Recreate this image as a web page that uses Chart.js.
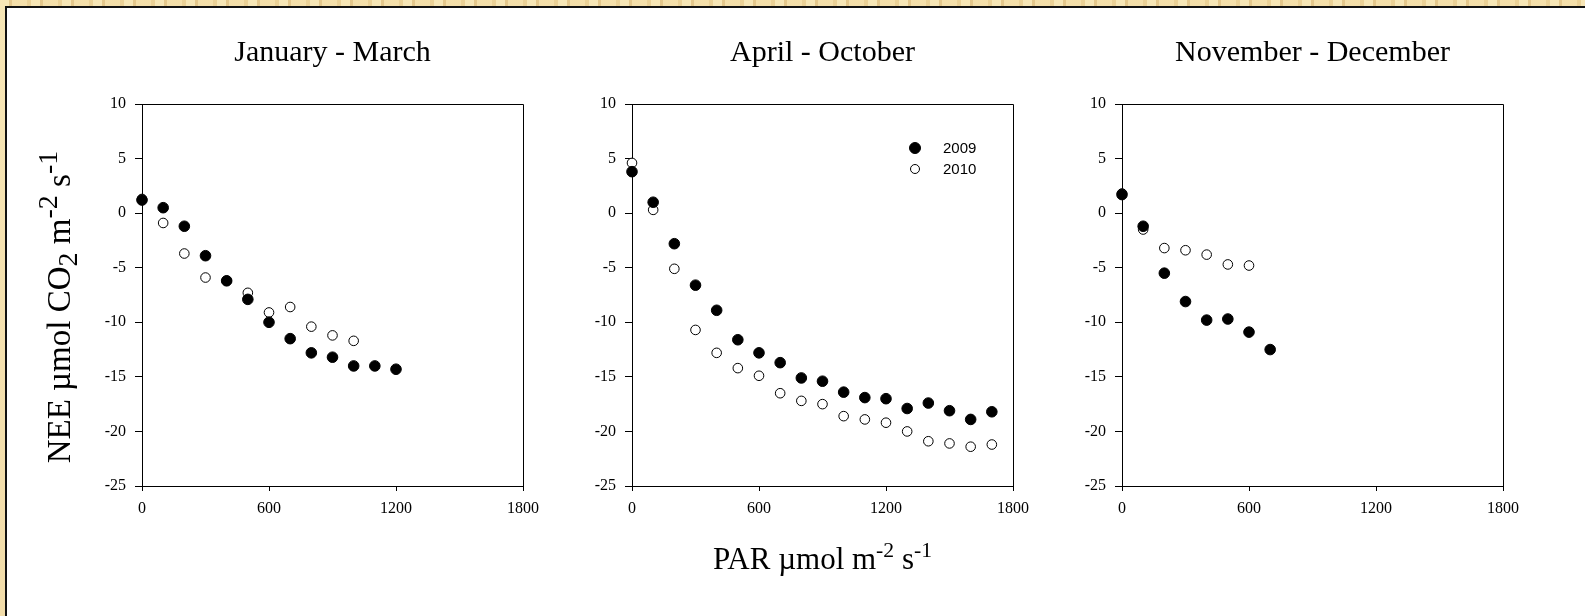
<!DOCTYPE html>
<html>
<head>
<meta charset="utf-8">
<script src="https://cdn.jsdelivr.net/npm/chart.js@4.4.0/dist/chart.umd.min.js"></script>
<style>
html,body{margin:0;padding:0;}
body{
  width:1585px;height:616px;overflow:hidden;position:relative;
  background:
    repeating-linear-gradient(90deg, rgba(255,244,205,.45) 0 9px, rgba(196,150,80,.28) 9px 12px, rgba(255,236,190,.25) 12px 27px, rgba(210,170,100,.2) 27px 31px),
    linear-gradient(#f1dba3,#e7c98c);
}
#sheet{position:absolute;left:5px;top:6px;width:1610px;height:640px;background:#fff;border-left:2px solid #111;border-top:2px solid #111;}
canvas{position:absolute;left:0;top:0;}
</style>
</head>
<body>
<div id="sheet"></div>
<canvas id="p0" width="1585" height="616"></canvas>
<canvas id="p1" width="1585" height="616"></canvas>
<canvas id="p2" width="1585" height="616"></canvas>
<script>
// light response of NEE, binned by PAR, three seasons x two years
const seasons = ['January - March', 'April - October', 'November - December'];
const years = ['2009', '2010'];
const parLevels = [0,100,200,300,400,500,600,700,800,900,1000,1100,1200,1300,1400,1500,1600,1700];

const janMar2009 = [1.2,0.5,-1.2,-3.9,-6.2,-7.9,-10.0,-11.5,-12.8,-13.2,-14.0,-14.0,-14.3];
const janMar2010 = [1.3,-0.9,-3.7,-5.9,-6.2,-7.3,-9.1,-8.6,-10.4,-11.2,-11.7];
const aprOct2009 = [3.8,1.0,-2.8,-6.6,-8.9,-11.6,-12.8,-13.7,-15.1,-15.4,-16.4,-16.9,-17.0,-17.9,-17.4,-18.1,-18.9,-18.2];
const aprOct2010 = [4.6,0.3,-5.1,-10.7,-12.8,-14.2,-14.9,-16.5,-17.2,-17.5,-18.6,-18.9,-19.2,-20.0,-20.9,-21.1,-21.4,-21.2];
const novDec2009 = [1.7,-1.2,-5.5,-8.1,-9.8,-9.7,-10.9,-12.5];
const novDec2010 = [1.8,-1.5,-3.2,-3.4,-3.8,-4.7,-4.8];

const parTicks = [0,600,1200,1800];
const neeTicks = [-25,-20,-15,-10,-5,0,5,10];

const series = [[janMar2009, janMar2010], [aprOct2009, aprOct2010], [novDec2009, novDec2010]];

// plot boxes on the page
const W = 1585, H = 616;
const boxLeft = [142, 632, 1122];
const boxWidth = 381;
const boxTop = 104, boxBottom = 486;
const yAxisW = 60, xAxisH = 50;

const serif = '"Liberation Serif", "Times New Roman", serif';
const sans = '"Liberation Sans", Arial, sans-serif';

function toPoints(vals) {
  return vals.map((v, i) => ({x: parLevels[i], y: v}));
}

// text with sub/superscript pieces, centred on (x,y)
function drawRich(ctx, parts, x, y, size, scale, vertical) {
  ctx.save();
  ctx.translate(x, y);
  if (vertical) ctx.rotate(-Math.PI / 2);
  ctx.fillStyle = '#000';
  ctx.textAlign = 'left';
  ctx.textBaseline = 'alphabetic';
  let total = 0;
  parts.forEach(p => {
    ctx.font = (p.s ? size * scale : size) + 'px ' + serif;
    total += ctx.measureText(p.t).width;
  });
  let cx = -total / 2;
  parts.forEach(p => {
    ctx.font = (p.s ? size * scale : size) + 'px ' + serif;
    const dy = p.s === 'sup' ? -size * 0.4 : p.s === 'sub' ? size * 0.2 : 0;
    ctx.fillText(p.t, cx, dy);
    cx += ctx.measureText(p.t).width;
  });
  ctx.restore();
}

const panelText = {
  id: 'panelText',
  beforeDatasetsDraw(chart, args, opts) {
    const {ctx, chartArea: a} = chart;
    ctx.save();
    ctx.strokeStyle = '#000';
    ctx.lineWidth = 1;
    ctx.beginPath();
    ctx.moveTo(a.left, a.top + 0.5);
    ctx.lineTo(a.right + 0.5, a.top + 0.5);
    ctx.lineTo(a.right + 0.5, a.bottom);
    ctx.stroke();
    ctx.restore();
  },
  afterDraw(chart, args, opts) {
    const {ctx, chartArea: a} = chart;
    ctx.save();
    ctx.fillStyle = '#000';
    ctx.font = '30px ' + serif;
    ctx.textAlign = 'center';
    ctx.textBaseline = 'alphabetic';
    ctx.fillText(opts.title, (a.left + a.right) / 2, a.top - 43);
    ctx.restore();

    if (opts.yTitle) {
      drawRich(ctx, [{t: 'NEE µmol CO'}, {t: '2', s: 'sub'}, {t: ' m'}, {t: '-2', s: 'sup'}, {t: ' s'}, {t: '-1', s: 'sup'}],
        70, 307, 33, 0.85, true);
    }
    if (opts.xTitle) {
      drawRich(ctx, [{t: 'PAR µmol m'}, {t: '-2', s: 'sup'}, {t: ' s'}, {t: '-1', s: 'sup'}],
        (a.left + a.right) / 2, 569, 31, 0.7, false);
    }
    if (opts.legend) {
      ctx.save();
      ctx.font = '15px ' + sans;
      ctx.textAlign = 'left';
      ctx.textBaseline = 'alphabetic';
      chart.data.datasets.forEach((ds, i) => {
        const cy = a.top + 44 + i * 21;
        ctx.beginPath();
        ctx.arc(a.right - 98, cy, i === 0 ? 5.5 : 4.5, 0, Math.PI * 2);
        ctx.fillStyle = ds.pointBackgroundColor;
        ctx.fill();
        ctx.lineWidth = 1;
        ctx.strokeStyle = '#000';
        ctx.stroke();
        ctx.fillStyle = '#000';
        ctx.fillText(ds.label, a.right - 70, cy + 5);
      });
      ctx.restore();
    }
  }
};

seasons.forEach((season, k) => {
  const [s2009, s2010] = series[k];
  new Chart(document.getElementById('p' + k), {
    type: 'scatter',
    data: {
      datasets: [
        {label: years[0], data: toPoints(s2009), pointRadius: 5.3, pointBorderWidth: 1,
         pointBackgroundColor: '#000', pointBorderColor: '#000', clip: false},
        {label: years[1], data: toPoints(s2010), pointRadius: 4.8, pointBorderWidth: 1,
         pointBackgroundColor: '#fff', pointBorderColor: '#000', clip: false}
      ]
    },
    options: {
      responsive: false,
      animation: false,
      events: [],
      layout: {
        padding: {
          left: boxLeft[k] - yAxisW,
          right: W - (boxLeft[k] + boxWidth),
          top: boxTop,
          bottom: H - boxBottom - xAxisH
        }
      },
      scales: {
        x: {
          type: 'linear',
          min: parTicks[0],
          max: parTicks[parTicks.length - 1],
          afterBuildTicks: s => { s.ticks = parTicks.map(v => ({value: v})); },
          afterFit: s => { s.height = xAxisH; },
          grid: {display: true, drawOnChartArea: false, drawTicks: true, tickLength: 5, color: '#000', lineWidth: 1},
          border: {display: true, color: '#000', width: 1},
          ticks: {color: '#000', font: {family: serif, size: 16}, padding: 8, maxRotation: 0, callback: v => String(v)}
        },
        y: {
          type: 'linear',
          min: neeTicks[0],
          max: neeTicks[neeTicks.length - 1],
          afterBuildTicks: s => { s.ticks = neeTicks.map(v => ({value: v})); },
          afterFit: s => { s.width = yAxisW; },
          grid: {display: true, drawOnChartArea: false, drawTicks: true, tickLength: 7, color: '#000', lineWidth: 1},
          border: {display: true, color: '#000', width: 1},
          ticks: {color: '#000', font: {family: serif, size: 16}, padding: 9, callback: v => String(v)}
        }
      },
      plugins: {
        legend: {display: false},
        tooltip: {enabled: false},
        panelText: {title: season, yTitle: k === 0, xTitle: k === 1, legend: k === 1}
      }
    },
    plugins: [panelText]
  });
});
</script>
</body>
</html>
